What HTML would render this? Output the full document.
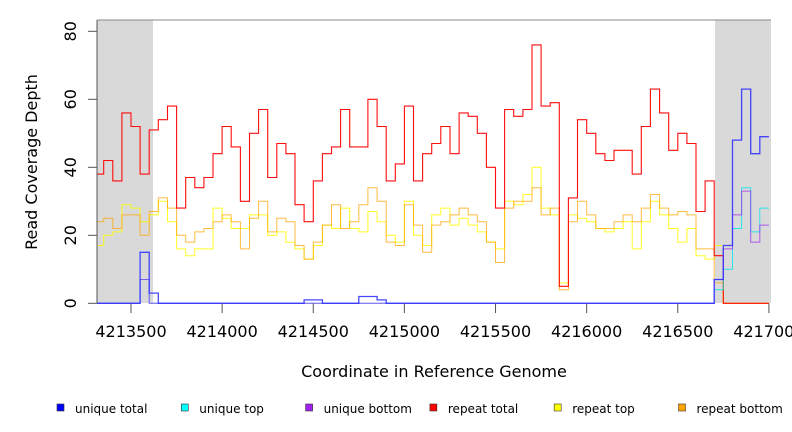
<!DOCTYPE html>
<html><head><meta charset="utf-8"><style>
body{margin:0;background:#fff}
svg{display:block;font-family:"DejaVu Sans","Liberation Sans",sans-serif}
</style></head><body>
<svg id="chart" width="792" height="432" viewBox="0 0 792 432">
<rect x="97" y="20" width="56" height="283" fill="#d9d9d9"/>
<rect x="715" y="20" width="56" height="283" fill="#d9d9d9"/>
<g id="series"></g>
<line x1="97" y1="20" x2="771" y2="20" stroke="#888" stroke-width="1"/>
<line x1="97" y1="20" x2="97" y2="303" stroke="#555" stroke-width="1"/>
<g id="yaxis"></g>
<g id="xaxis"></g>
<text x="37" y="162" transform="rotate(-90 37 162)" text-anchor="middle" font-size="16">Read Coverage Depth</text>
<text x="434" y="377" text-anchor="middle" font-size="16">Coordinate in Reference Genome</text>
<g id="legend"></g>
</svg>
<script>
const startCoord = 4213325;
const stepCoord = 50;
const redTotal = [38,42,36,56,52,38,51,54,58,28,37,34,37,44,52,46,30,50,57,37,47,44,29,24,36,44,46,57,46,46,60,52,36,41,58,36,44,47,52,44,56,55,50,40,28,57,55,57,76,58,59,5,31,54,50,44,42,45,45,38,52,63,56,45,50,47,27,36,14,0,0,0,0,0];
const repeatBottom = [24,25,22,26,26,20,27,31,28,20,18,21,22,24,26,24,16,25,30,21,25,24,17,13,18,23,29,22,24,29,34,30,18,17,29,23,15,23,24,26,28,26,24,18,12,28,30,30,34,26,28,4,24,30,26,22,22,24,26,24,28,32,28,26,27,26,16,16,6,0,0,0,0,0];
const repeatTop = [17,20,21,29,28,24,26,30,24,16,14,16,16,28,25,22,22,26,26,20,21,18,16,13,17,23,22,28,22,21,27,24,20,18,30,20,17,26,28,23,25,23,21,18,16,30,29,32,40,28,26,6,26,25,24,22,21,22,24,16,24,30,26,22,18,22,14,13,17,0,0,0,0,0];
const uniqueTotal = [0,0,0,0,0,15,3,0,0,0,0,0,0,0,0,0,0,0,0,0,0,0,0,1,1,0,0,0,0,2,2,1,0,0,0,0,0,0,0,0,0,0,0,0,0,0,0,0,0,0,0,0,0,0,0,0,0,0,0,0,0,0,0,0,0,0,0,0,7,17,48,63,44,49];
const uniqueTop = [0,0,0,0,0,7,0,0,0,0,0,0,0,0,0,0,0,0,0,0,0,0,0,0,0,0,0,0,0,0,0,0,0,0,0,0,0,0,0,0,0,0,0,0,0,0,0,0,0,0,0,0,0,0,0,0,0,0,0,0,0,0,0,0,0,0,0,0,4,10,22,34,21,28];
const uniqueBottom = [0,0,0,0,0,7,0,0,0,0,0,0,0,0,0,0,0,0,0,0,0,0,0,0,0,0,0,0,0,0,0,0,0,0,0,0,0,0,0,0,0,0,0,0,0,0,0,0,0,0,0,0,0,0,0,0,0,0,0,0,0,0,0,0,0,0,0,0,7,16,26,33,18,23];
const yTicks = [0,20,40,60,80];
const xTicks = [4213500,4214000,4214500,4215000,4215500,4216000,4216500,4217000];
const xTickLabels = ["4213500","4214000","4214500","4215000","4215500","4216000","4216500","4217000"];
const legendLabels = ["unique total","unique top","unique bottom","repeat total","repeat top","repeat bottom"];
const legendColors = ["#0000ff","#00ffff","#a020f0","#ff0000","#ffff00","#ffa500"];

const NS="http://www.w3.org/2000/svg";
function xs(c){return 131+(c-4213500)*0.18226;}
function ys(v){return 303.3-v*3.4;}
function mk(tag,attrs,parent){const e=document.createElementNS(NS,tag);for(const k in attrs)e.setAttribute(k,attrs[k]);parent.appendChild(e);return e;}

const seriesG=document.getElementById('series');
function drawSeries(vals,color,width,opacity,name){
  let d="";
  for(let i=0;i<vals.length;i++){
    const x0=xs(startCoord+stepCoord*i-stepCoord/2), x1=xs(startCoord+stepCoord*i+stepCoord/2), y=ys(vals[i]);
    d+=(i===0?"M"+Math.max(97,x0).toFixed(1)+","+y.toFixed(1):"V"+y.toFixed(1))+"H"+Math.min(771,x1).toFixed(1);
  }
  const p=mk('path',{d:d,fill:'none',stroke:color,'stroke-width':width,'stroke-opacity':opacity},seriesG);
  
  
}
drawSeries(repeatTop,'#ffff00',1,0.85,'repeat-top-line');
drawSeries(repeatBottom,'#ffa500',1,0.75,'repeat-bottom-line');
drawSeries(redTotal,'#ff0000',1.1,0.95,'repeat-total-line');
drawSeries(uniqueTop,'#00e5ee',1,0.8,'unique-top-line');
drawSeries(uniqueBottom,'#a020f0',1,0.7,'unique-bottom-line');
drawSeries(uniqueTotal,'#3333ff',1.3,0.9,'unique-total-line');

const ya=document.getElementById('yaxis');
yTicks.forEach(v=>{
  const y=ys(v);
  const l=mk('line',{x1:88,x2:97,y1:y,y2:y,stroke:'#555'},ya);
  
  
  const t=mk('text',{x:76,y:y,'font-size':16,'text-anchor':'middle',transform:'rotate(-90 76 '+y+')'},ya);
  t.textContent=v;
  
  
});
const xa=document.getElementById('xaxis');
xTicks.forEach((c,i)=>{
  const x=xs(c);
  const l=mk('line',{x1:x,x2:x,y1:303.5,y2:313,stroke:'#555'},xa);
  
  
  const t=mk('text',{x:x,y:337,'font-size':16,'text-anchor':'middle'},xa);
  t.textContent=xTickLabels[i];
  
  
});
const lg=document.getElementById('legend');
legendLabels.forEach((lab,i)=>{
  const x=57+i*124.3;
  const r=mk('rect',{x:x,y:404,width:7,height:7,fill:legendColors[i],stroke:'#333','stroke-width':0.6},lg);
  
  
  const t=mk('text',{x:x+18,y:413,'font-size':12},lg);
  t.textContent=lab;
  
  
});
</script>
</body></html>
